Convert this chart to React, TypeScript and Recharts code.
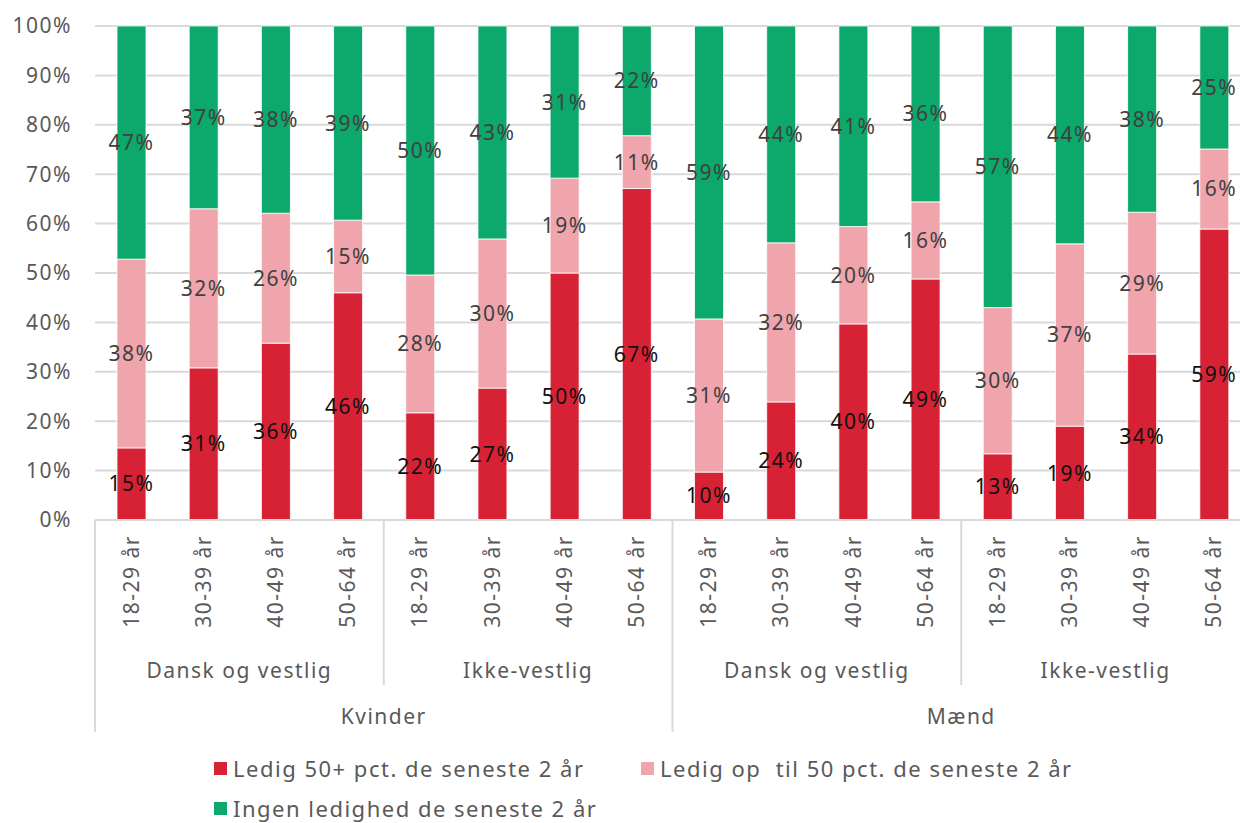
import React from 'react'
import {
    BarChart,
    Bar,
    XAxis,
    YAxis,
    CartesianGrid,
    Legend,
    LabelList
} from 'recharts'

const genders = ['Kvinder', 'Mænd']
const origins = ['Dansk og vestlig', 'Ikke-vestlig']
const ages = ['18-29 år', '30-39 år', '40-49 år', '50-64 år']

// andele i procent, rækkefølge: Kvinder DV, Kvinder IV, Mænd DV, Mænd IV (hver 4 aldersgrupper)
const ledig50 = [14.6, 30.8, 35.8, 46.0, 21.7, 26.7, 50.0, 67.1, 9.7, 23.9, 39.7, 48.8, 13.4, 19.0, 33.6, 58.9]
const ledigOp = [38.2, 32.2, 26.3, 14.7, 27.9, 30.2, 19.2, 10.7, 31.0, 32.2, 19.7, 15.6, 29.6, 36.9, 28.7, 16.2]
const ingen = [47.2, 37.0, 37.9, 39.3, 50.4, 43.1, 30.8, 22.2, 59.3, 43.9, 40.6, 35.6, 57.0, 44.1, 37.7, 24.9]

const yTicks = [0, 10, 20, 30, 40, 50, 60, 70, 80, 90, 100]

const seriesNames = [
    'Ledig 50+ pct. de seneste 2 år',
    'Ledig op  til 50 pct. de seneste 2 år',
    'Ingen ledighed de seneste 2 år'
]
const colors = ['#D72236', '#F0A5AD', '#0CA86C']

const FONT = '"Noto Sans", sans-serif'
const TEXT = '#595959'
const LINE = '#d9d9d9'

const rows: any[] = []
genders.forEach((g) => {
    origins.forEach((o) => {
        ages.forEach((a) => {
            const i = rows.length
            rows.push({
                gender: g,
                origin: o,
                age: a,
                key: `${g}-${o}-${a}`,
                ledig50: ledig50[i],
                ledigOp: ledigOp[i],
                ingen: ingen[i]
            })
        })
    })
})

const pct = (v: any) => `${Math.round(Number(v))}%`

function MultiTick(props: any) {
    const { x, y, payload, index } = props
    const half = payload && payload.offset ? payload.offset : 36
    const row = rows[index]
    const left = x - half
    return (
        <g>
            <text
                x={x}
                y={y + 15}
                transform={`rotate(-90, ${x}, ${y + 15})`}
                textAnchor="end"
                dy="0.36em"
                fill={TEXT}
                fontSize={21}
                fontFamily={FONT}
                letterSpacing={1.5}
            >
                {row.age}
            </text>
            {index % 4 === 0 && (
                <g>
                    <line
                        x1={left}
                        x2={left}
                        y1={y}
                        y2={y + (index % 8 === 0 ? 212 : 165)}
                        stroke={LINE}
                        strokeWidth={2}
                    />
                    <text
                        x={left + half * 4}
                        y={y + 150}
                        textAnchor="middle"
                        dy="0.36em"
                        fill={TEXT}
                        fontSize={21}
                        fontFamily={FONT}
                        letterSpacing={1.5}
                    >
                        {row.origin}
                    </text>
                </g>
            )}
            {index % 8 === 0 && (
                <text
                    x={left + half * 8}
                    y={y + 196}
                    textAnchor="middle"
                    dy="0.36em"
                    fill={TEXT}
                    fontSize={21}
                    fontFamily={FONT}
                    letterSpacing={1.5}
                >
                    {row.gender}
                </text>
            )}
        </g>
    )
}

function LegendBox() {
    const item = (i: number, width: number) => (
        <div style={{ display: 'flex', alignItems: 'center', width, height: 40 }}>
            <span
                style={{
                    display: 'inline-block',
                    width: 13,
                    height: 13,
                    background: colors[i],
                    marginRight: 6
                }}
            />
            <span>{seriesNames[i]}</span>
        </div>
    )
    return (
        <div
            style={{
                height: 80,
                paddingLeft: 214,
                fontFamily: FONT,
                fontSize: 22,
                letterSpacing: 1.5,
                color: TEXT,
                whiteSpace: 'pre'
            }}
        >
            <div style={{ display: 'flex' }}>
                {item(0, 427)}
                {item(1, 500)}
            </div>
            <div style={{ display: 'flex' }}>{item(2, 500)}</div>
        </div>
    )
}

export default function App() {
    return (
        <div
            style={{
                position: 'absolute',
                left: 0,
                top: 0,
                width: 1240,
                height: 823,
                overflow: 'hidden',
                background: '#fff'
            }}
        >
            <BarChart
                width={1250}
                height={823}
                data={rows}
                margin={{ top: 26, right: 0, left: 0, bottom: 3 }}
                barSize={29}
            >
                <CartesianGrid vertical={false} stroke={LINE} strokeWidth={2} />
                <XAxis
                    dataKey="key"
                    interval={0}
                    height={220}
                    tickLine={false}
                    tickSize={0}
                    tickMargin={0}
                    axisLine={{ stroke: LINE, strokeWidth: 2 }}
                    tick={<MultiTick />}
                />
                <YAxis
                    width={95}
                    domain={[0, 100]}
                    ticks={yTicks}
                    tickFormatter={(v) => `${v}%`}
                    axisLine={false}
                    tickLine={false}
                    tickMargin={17}
                    tick={{ fill: TEXT, fontSize: 21, fontFamily: FONT, letterSpacing: 1.5 }}
                />
                <Legend
                    verticalAlign="bottom"
                    wrapperStyle={{ top: 748, left: 0 }}
                    content={<LegendBox />}
                />
                <Bar dataKey="ledig50" name={seriesNames[0]} stackId="a" fill={colors[0]} stroke="#fff" strokeWidth={0.8} isAnimationActive={false}>
                    <LabelList dataKey="ledig50" position="center" formatter={pct} fill="#111" fontSize={21} fontFamily={FONT} letterSpacing={1.5} />
                </Bar>
                <Bar dataKey="ledigOp" name={seriesNames[1]} stackId="a" fill={colors[1]} stroke="#fff" strokeWidth={0.8} isAnimationActive={false}>
                    <LabelList dataKey="ledigOp" position="center" formatter={pct} fill="#404040" fontSize={21} fontFamily={FONT} letterSpacing={1.5} />
                </Bar>
                <Bar dataKey="ingen" name={seriesNames[2]} stackId="a" fill={colors[2]} stroke="#fff" strokeWidth={0.8} isAnimationActive={false}>
                    <LabelList dataKey="ingen" position="center" formatter={pct} fill="#404040" fontSize={21} fontFamily={FONT} letterSpacing={1.5} />
                </Bar>
            </BarChart>
        </div>
    )
}
